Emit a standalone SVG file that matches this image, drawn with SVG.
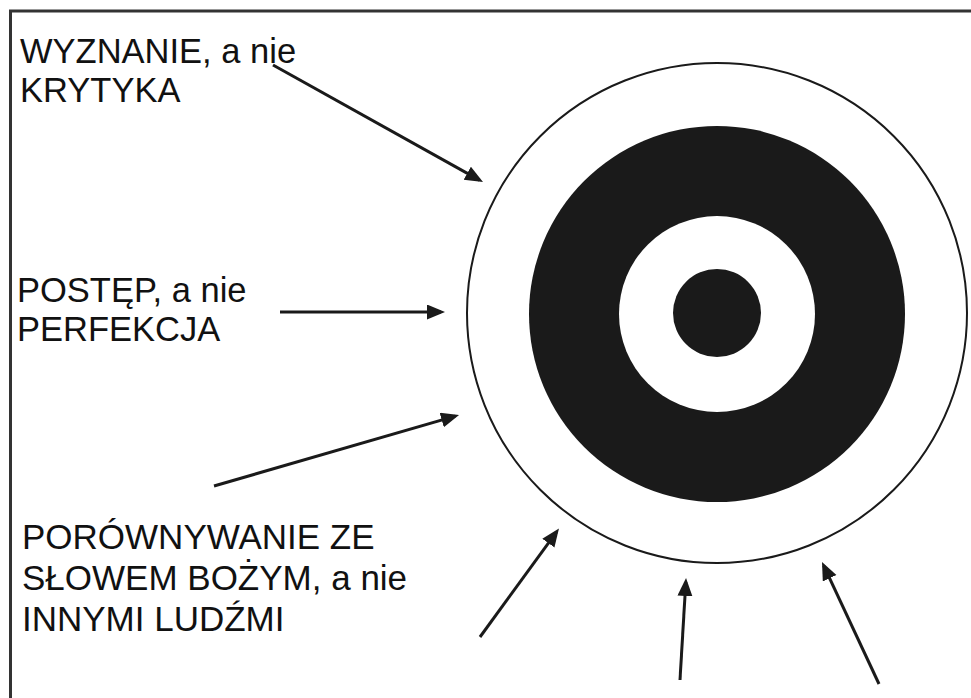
<svg xmlns="http://www.w3.org/2000/svg" width="971" height="698" viewBox="0 0 971 698">
<style>
.lbl{font-family:"Liberation Sans",Arial,sans-serif;font-size:34.5px;fill:#111}
.lbl3{font-size:35px}
.conn{stroke:#1a1a1a;stroke-width:3;fill:none;marker-end:url(#ah)}
.ring{fill:#1a1a1a}
</style>
<defs>
<marker id="ah" markerUnits="userSpaceOnUse" markerWidth="20" markerHeight="16" refX="14" refY="7.5" orient="auto">
<path d="M0,0 L18,7.5 L0,15 Z" fill="#1a1a1a"/>
</marker>
</defs>
<rect width="971" height="698" fill="#fff"/>
<path d="M10.5 698 V11 H971" fill="none" stroke="#333" stroke-width="3"/>
<g id="target">
<circle cx="717" cy="313" r="250" fill="#fff" stroke="#1a1a1a" stroke-width="2"/>
<circle class="ring" cx="717" cy="314" r="188"/>
<circle cx="717" cy="314" r="98" fill="#fff"/>
<circle class="ring" cx="717" cy="313" r="44"/>
</g>
<g id="label-wyznanie">
<text class="lbl" x="20" y="63">WYZNANIE, a nie</text>
<text class="lbl" x="20" y="102">KRYTYKA</text>
</g>
<g id="label-postep">
<text class="lbl" x="17" y="302">POSTĘP, a nie</text>
<text class="lbl" x="17" y="341">PERFEKCJA</text>
</g>
<g id="label-porownywanie">
<text class="lbl lbl3" x="22" y="549">PORÓWNYWANIE ZE</text>
<text class="lbl lbl3" x="22" y="590">SŁOWEM BOŻYM, a nie</text>
<text class="lbl lbl3" x="22" y="631">INNYMI LUDŹMI</text>
</g>
<g id="connectors">
<line class="conn" x1="273" y1="65" x2="479.5" y2="180.1"/>
<line class="conn" x1="280" y1="312" x2="441" y2="312"/>
<line class="conn" x1="214" y1="486" x2="455.2" y2="416.1"/>
<line class="conn" x1="480" y1="637" x2="556.6" y2="531.8"/>
<line class="conn" x1="680" y1="680" x2="685.8" y2="582"/>
<line class="conn" x1="879" y1="684" x2="823.7" y2="565.6"/>
</g>
</svg>
